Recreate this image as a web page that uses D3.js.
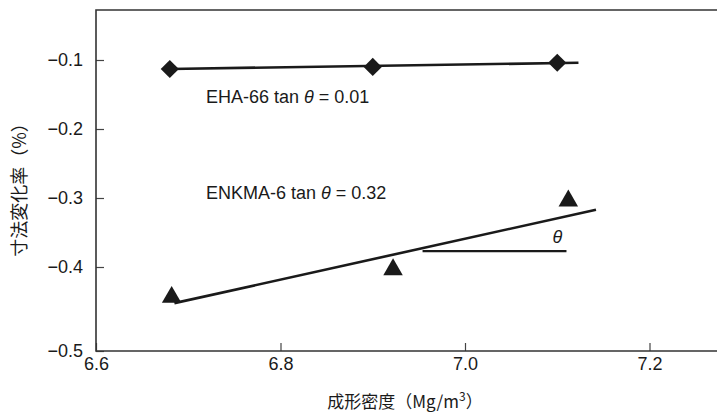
<!DOCTYPE html>
<html>
<head>
<meta charset="utf-8">
<script src="https://cdn.jsdelivr.net/npm/d3@7"></script>
<style>
  body { margin: 0; background: #fff; }
  svg { display: block; font-family: "Liberation Sans", Arial, sans-serif; }
</style>
</head>
<body>
<div id="chart"></div>
<script>
// data
const xTicks = [6.6, 6.8, 7.0, 7.2];
const yTicks = [-0.1, -0.2, -0.3, -0.4, -0.5];

const ehaDensity = [6.68, 6.90, 7.10];
const ehaChange = [-0.113, -0.110, -0.104];
const ehaFitX = [6.68, 7.123];
const ehaFitY = [-0.113, -0.104];

const enkDensity = [6.682, 6.922, 7.112];
const enkChange = [-0.436, -0.403, -0.304];
const enkFitX = [6.685, 7.142];
const enkFitY = [-0.443, -0.317];

// theta guide (horizontal line under the fit)
const thetaX = [6.954, 7.11];
const thetaY = -0.377;

const width = 717, height = 412;
const plot = { left: 96, right: 717, top: 10, bottom: 351 };
const ink = "#1a1a1a";

const svg = d3.select("#chart").append("svg")
  .attr("width", width)
  .attr("height", height);

const x = d3.scaleLinear()
  .domain([6.6, 7.2])
  .range([plot.left, plot.left + 553.5]);

// the original figure spaces -0.5 a little wider than the others
const y = d3.scaleLinear()
  .domain([-0.5, -0.4, -0.1])
  .range([plot.bottom, 267, 60]);

const fmt = d3.format(".1f");

// X axis
const gx = svg.append("g")
  .attr("transform", `translate(0,${plot.bottom})`)
  .call(d3.axisBottom(x).tickValues(xTicks).tickFormat(fmt).tickSize(-8).tickSizeOuter(0).tickPadding(6));
gx.select(".domain").remove();
gx.selectAll("line").attr("stroke", "#444").attr("stroke-width", 1.2);
gx.selectAll("text").attr("fill", ink).style("font-size", "18px");

// Y axis
const gy = svg.append("g")
  .attr("transform", `translate(${plot.left},0)`)
  .call(d3.axisLeft(y).tickValues(yTicks).tickFormat(fmt).tickSize(-8).tickSizeOuter(0).tickPadding(13));
gy.select(".domain").remove();
gy.selectAll("line").attr("stroke", "#444").attr("stroke-width", 1.2);
gy.selectAll("text").attr("fill", ink).style("font-size", "18px");

// frame: left, top, bottom (no right side)
svg.append("path")
  .attr("d", `M${plot.right},${plot.top}H${plot.left}V${plot.bottom}H${plot.right}`)
  .attr("fill", "none")
  .attr("stroke", "#333")
  .attr("stroke-width", 1.6);

// fit lines
const fitLine = d3.line().x(d => x(d[0])).y(d => y(d[1]));

svg.append("path")
  .datum(d3.zip(ehaFitX, ehaFitY))
  .attr("d", fitLine)
  .attr("fill", "none")
  .attr("stroke", ink)
  .attr("stroke-width", 2.6);

svg.append("path")
  .datum(d3.zip(enkFitX, enkFitY))
  .attr("d", fitLine)
  .attr("fill", "none")
  .attr("stroke", ink)
  .attr("stroke-width", 2.6);

// theta guide
svg.append("line")
  .attr("x1", x(thetaX[0]))
  .attr("x2", x(thetaX[1]))
  .attr("y1", y(thetaY))
  .attr("y2", y(thetaY))
  .attr("stroke", ink)
  .attr("stroke-width", 2.2);

svg.append("text")
  .attr("x", x(thetaX[1]) - 9)
  .attr("y", y(thetaY) - 8)
  .attr("text-anchor", "middle")
  .style("font-size", "18px")
  .style("font-style", "italic")
  .attr("fill", ink)
  .text("θ");

// markers
const diamond = d3.symbol().type(d3.symbolSquare).size(165);
svg.append("g").selectAll("path")
  .data(d3.zip(ehaDensity, ehaChange))
  .join("path")
  .attr("d", diamond)
  .attr("transform", d => `translate(${x(d[0])},${y(d[1])}) rotate(45)`)
  .attr("fill", ink);

const tri = d3.symbol().type(d3.symbolTriangle).size(165);
svg.append("g").selectAll("path")
  .data(d3.zip(enkDensity, enkChange))
  .join("path")
  .attr("d", tri)
  .attr("transform", d => `translate(${x(d[0])},${y(d[1])})`)
  .attr("fill", ink);

// series labels
function seriesLabel(name, slope, lx, ly) {
  const t = svg.append("text")
    .attr("x", lx)
    .attr("y", ly)
    .attr("fill", ink)
    .style("font-size", "18px");
  t.append("tspan").text(name + " tan ");
  t.append("tspan").style("font-style", "italic").text("θ");
  t.append("tspan").text(" = " + slope);
}
seriesLabel("EHA-66", "0.01", 206, 103);
seriesLabel("ENKMA-6", "0.32", 206, 199);

// axis titles
const xt = svg.append("text")
  .attr("x", 405)
  .attr("y", 408)
  .attr("text-anchor", "middle")
  .attr("fill", ink)
  .style("font-family", "'Noto Sans CJK JP', 'Liberation Sans', sans-serif")
  .style("font-size", "17px");
xt.append("tspan").text("成形密度（Mg/m");
xt.append("tspan").attr("dy", -7).style("font-size", "12px").text("3");
xt.append("tspan").attr("dy", 7).text("）");

svg.append("text")
  .attr("transform", `translate(26,${(plot.top + plot.bottom) / 2 + 5}) rotate(-90)`)
  .attr("text-anchor", "middle")
  .attr("fill", ink)
  .style("font-family", "'Noto Sans CJK JP', 'Liberation Sans', sans-serif")
  .style("font-size", "18px")
  .text("寸法変化率（%）");
</script>
</body>
</html>
